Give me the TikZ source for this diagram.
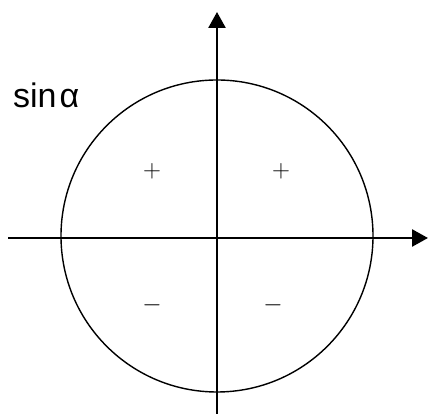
\documentclass[tikz,border=0pt]{standalone}
\usepackage{fontspec}
\newfontfamily\labelfont{Liberation Sans}
\usepackage{tikz}
\usetikzlibrary{arrows.meta}

\begin{document}
\begin{tikzpicture}[
  x=1pt, y=1pt,
  axis/.style={-{Triangle[length=16pt,width=17pt]}, line width=2.6pt},
  ring/.style={draw, circle, line width=1.4pt, minimum size=312pt, inner sep=0pt},
  sign/.style={font=\fontsize{28}{28}\selectfont, inner sep=0pt}
]
  \useasboundingbox (0,0) rectangle (432,414);

  \node[ring] (unit) at (217,178) {};

  \coordinate (xl) at (8,176);
  \coordinate (xr) at (428,176);
  \coordinate (yb) at (217,0);
  \coordinate (yt) at (217,402);

  \draw[axis] (xl) -- (xr);
  \draw[axis] (yb) -- (yt);

  \node[anchor=base west, inner sep=0pt, font=\labelfont\fontsize{34}{34}\selectfont] (lbl) at (13,306) {sin\kern3ptα};

  \node[sign] (q2) at (152,243) {$+$};
  \node[sign] (q1) at (281,243) {$+$};
  \node[sign] (q3) at (152,109) {$-$};
  \node[sign] (q4) at (273,109) {$-$};
\end{tikzpicture}
\end{document}
